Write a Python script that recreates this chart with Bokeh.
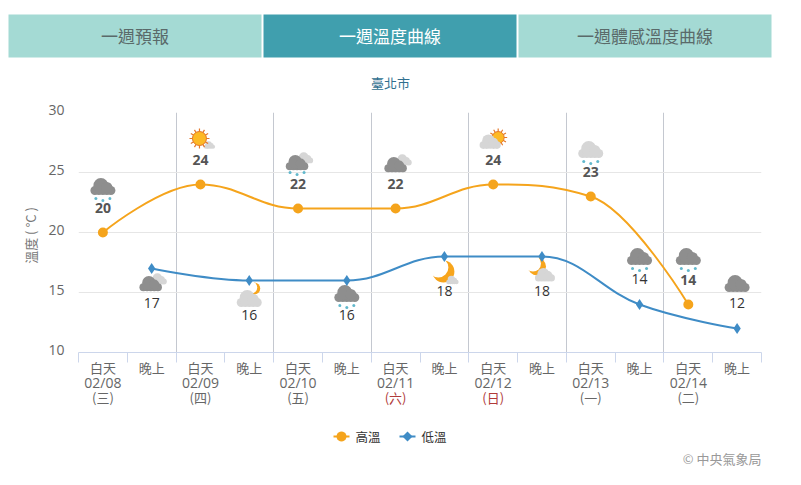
import math
from bokeh.plotting import figure
from bokeh.embed import file_html
from bokeh.resources import INLINE
from bokeh.core.properties import value
from bokeh.models import FixedTicker, Range1d

# ---------- data ----------
periods = ["白天", "晚上"] * 7
dates = ["02/08", "02/09", "02/10", "02/11", "02/12", "02/13", "02/14"]
weekdays = ["(三)", "(四)", "(五)", "(六)", "(日)", "(一)", "(二)"]
weekday_colors = ["#666666", "#666666", "#666666", "#b03a3a", "#b03a3a", "#666666", "#666666"]
high_slots = [0, 2, 4, 6, 8, 10, 12]
high_temps = [20, 24, 22, 22, 24, 23, 14]
low_slots = [1, 3, 5, 7, 9, 11, 13]
low_temps = [17, 16, 16, 18, 18, 14, 12]
low_label_above = [False, False, False, False, False, True, True]
high_icons = ["rain", "sun", "cloudsrain", "clouds", "suncloud", "lightrain", "rain"]
low_icons = ["clouds", "moonsliver", "rain", "moon", "moonbehind", "rain", "dark"]
tabs = ["一週預報", "一週溫度曲線", "一週體感溫度曲線"]
y_ticks = [10, 15, 20, 25, 30]
day_lines = [2, 4, 6, 8, 10, 12]
legend_names = ["高溫", "低溫"]

HIGH = "#f5a41c"
LOW = "#3f8cc6"
CJK = "Noto Sans CJK TC"
LATIN = "Open Sans"

# ---------- page geometry ----------
W, H = 790, 475
FL, FR, FT, FB = 78, 761, 112, 352      # frame edges in page pixels
PX_X = (FR - FL) / 14
PX_Y = (FB - FT) / 20


def X(px):
    return (px - FL) / PX_X


def Y(px):
    return 10 + (FB - px) / PX_Y


p = figure(
    width=W, height=H, output_backend="svg", toolbar_location=None,
    x_range=Range1d(0, 14), y_range=Range1d(10, 30),
    min_border_left=FL, min_border_right=W - FR,
    min_border_top=FT, min_border_bottom=H - FB,
    outline_line_color=None, background_fill_color="white",
)

# axes and grids
p.xaxis.ticker = FixedTicker(ticks=list(range(15)))
p.xaxis.major_label_text_color = None
p.xaxis.axis_line_color = "#ccd6eb"
p.xaxis.major_tick_line_color = "#ccd6eb"
p.xaxis.major_tick_out = 10
p.xaxis.major_tick_in = 0
p.xaxis.minor_tick_line_color = None
p.yaxis.ticker = FixedTicker(ticks=y_ticks)
p.yaxis.axis_line_color = None
p.yaxis.major_tick_line_color = None
p.yaxis.minor_tick_line_color = None
p.yaxis.major_label_text_color = None
p.ygrid.ticker = FixedTicker(ticks=y_ticks)
p.ygrid.grid_line_color = "#e6e6e6"
p.xgrid.ticker = FixedTicker(ticks=day_lines)
p.xgrid.grid_line_color = "#c4c8d0"


def txt(xs, ys, texts, color, size, font=CJK, align="center", style="normal", **kw):
    p.text(xs, ys, text=texts, text_color=color, text_font_size=f"{size}px",
           text_font=value(font), text_align=align, text_baseline="middle",
           text_font_style=style, level="overlay", **kw)


# y tick labels sit a little above their grid lines
txt([X(64)] * len(y_ticks), y_ticks, [str(t) for t in y_ticks], "#666666", 14, font=LATIN,
    align="right", y_offset=-2.5)

# tabs
tab_left = [8, 263, 518]
tab_right = [261, 516, 771]
tab_fill = ["#a4dad4", "#409fae", "#a4dad4"]
tab_text = ["#5a6a6a", "#ffffff", "#5a6a6a"]
for l, r, f, c, t in zip(tab_left, tab_right, tab_fill, tab_text, tabs):
    p.quad(left=[X(l)], right=[X(r)], top=[Y(14)], bottom=[Y(57)], fill_color=f,
           line_color=None, level="overlay")
    txt([X((l + r) / 2)], [Y(34.5)], [t], c, 17)

txt([X(390)], [Y(82)], ["臺北市"], "#2f6f8f", 13)
txt([X(30)], [Y(235)], ["溫度 ( °C )"], "#777777", 13, angle=1.5708)
txt([X(761)], [Y(458)], ["© 中央氣象局"], "#999999", 13, align="right")

# category labels
slot_centers = [i + 0.5 for i in range(14)]
txt(slot_centers, [Y(367)] * 14, periods, "#666666", 13)
txt(slot_centers[::2], [Y(382)] * 7, dates, "#666666", 14, font=LATIN)
for c, d, col in zip(slot_centers[::2], weekdays, weekday_colors):
    txt([c], [Y(397)], [d], col, 13)


# ---------- weather icons: pieces offset in pixels from an icon centre ----------
def dots(cx, cy, pieces, color, line=None):
    xs = [X(cx + a) for a, b, s in pieces]
    ys = [Y(cy + b) for a, b, s in pieces]
    sz = [s for a, b, s in pieces]
    p.scatter(xs, ys, size=sz, marker="circle", fill_color=color,
              line_color=line if line else color, line_width=1 if line else 0)


def cloud(cx, cy, color, k=1.0):
    base = [(-8, 3, 9), (-4, 3, 9), (0, 3, 9), (4, 3, 9), (8, 3, 9), (-2, -2, 15), (4, 0, 11)]
    dots(cx, cy, [(a * k, b * k, s * k) for a, b, s in base], color)


def rain(cx, cy):
    dots(cx, cy, [(-7, 11, 3), (0, 13, 3), (7, 11, 3)], "#62b8cc")


def sun(cx, cy, r):
    for a in [i * 0.5236 for i in range(12)]:
        p.ray([X(cx)], [Y(cy)], length=r + 3, length_units="screen", angle=a,
              line_color="#e4782a", line_width=1.2)
    dots(cx, cy, [(0, 0, 2 * r)], "#fdb925", line="#e4782a")


def moon(cx, cy, r, mx, my, mr):
    dots(cx, cy, [(0, 0, 2 * r)], "#f7a51c")
    dots(cx, cy, [(mx, my, 2 * mr)], "#ffffff")


DARK = "#8e8e8e"
LIGHT = "#d6d6d6"


def icon(kind, cx, cy):
    if kind == "rain":
        cloud(cx, cy, DARK)
        rain(cx, cy)
    elif kind == "dark":
        cloud(cx, cy, DARK)
    elif kind == "lightrain":
        cloud(cx, cy, LIGHT)
        rain(cx, cy)
    elif kind == "clouds":
        cloud(cx + 7, cy - 5, LIGHT, 0.65)
        cloud(cx - 1, cy, DARK, 0.9)
    elif kind == "cloudsrain":
        cloud(cx + 7, cy - 5, LIGHT, 0.65)
        cloud(cx - 1, cy, DARK, 0.9)
        rain(cx - 1, cy - 2)
    elif kind == "sun":
        cloud(cx + 9, cy + 6, LIGHT, 0.45)
        sun(cx - 1, cy - 1, 7)
    elif kind == "suncloud":
        sun(cx + 5, cy - 2, 6)
        cloud(cx - 3, cy + 3, LIGHT, 0.85)
    elif kind == "moon":
        moon(cx - 1, cy - 1, 11, -5, -4, 10)
        cloud(cx + 8, cy + 8, LIGHT, 0.5)
    elif kind == "moonbehind":
        moon(cx - 5, cy - 6, 9, -4, -3, 8)
        cloud(cx + 3, cy + 3, LIGHT, 0.8)
    elif kind == "moonsliver":
        moon(cx + 5, cy - 8, 6, -3, -1, 6)
        cloud(cx, cy + 3, LIGHT)


def px_x(v):
    return FL + v * PX_X


def px_y(v):
    return FB - (v - 10) * PX_Y


for s, v, k in zip(high_slots, high_temps, high_icons):
    lift = 46 if k == "lightrain" else 43 if k == "clouds" else 47 if v == 14 else 45
    icon(k, px_x(s + 0.5) + (1 if k == "clouds" else 0), px_y(v) - lift)
for s, v, k, above in zip(low_slots, low_temps, low_icons, low_label_above):
    if above:
        cy = px_y(v) - (44 if k == "dark" else 47)
    else:
        cy = px_y(v) + (14 if k == "rain" else 16)
    icon(k, px_x(s + 0.5), cy)


# ---------- spline through the points, same rule as the source chart's spline ----------
def controls(xs, ys, smooth=1.5):
    left, right = [None] * len(xs), [None] * len(xs)
    d = smooth + 1
    for i in range(1, len(xs) - 1):
        lx, ly = (smooth * xs[i] + xs[i - 1]) / d, (smooth * ys[i] + ys[i - 1]) / d
        rx, ry = (smooth * xs[i] + xs[i + 1]) / d, (smooth * ys[i] + ys[i + 1]) / d
        corr = (ry - ly) * (rx - xs[i]) / (rx - lx) + ys[i] - ry
        ly += corr
        ry += corr
        if ly > ys[i - 1] and ly > ys[i]:
            ly = max(ys[i - 1], ys[i])
            ry = 2 * ys[i] - ly
        elif ly < ys[i - 1] and ly < ys[i]:
            ly = min(ys[i - 1], ys[i])
            ry = 2 * ys[i] - ly
        if ry > ys[i + 1] and ry > ys[i]:
            ry = max(ys[i + 1], ys[i])
            ly = 2 * ys[i] - ry
        elif ry < ys[i + 1] and ry < ys[i]:
            ry = min(ys[i + 1], ys[i])
            ly = 2 * ys[i] - ry
        left[i], right[i] = (lx, ly), (rx, ry)
    return left, right


def series(slots, temps, color, marker, size):
    xs = [s + 0.5 for s in slots]
    left, right = controls(xs, temps)
    x0, y0, x1, y1, cx0, cy0, cx1, cy1 = [], [], [], [], [], [], [], []
    for i in range(len(xs) - 1):
        a = right[i] or (xs[i], temps[i])
        b = left[i + 1] or (xs[i + 1], temps[i + 1])
        x0.append(xs[i]); y0.append(temps[i]); x1.append(xs[i + 1]); y1.append(temps[i + 1])
        cx0.append(a[0]); cy0.append(a[1]); cx1.append(b[0]); cy1.append(b[1])
    p.bezier(x0, y0, x1, y1, cx0, cy0, cx1, cy1, line_color=color, line_width=2)
    p.scatter(xs, temps, marker=marker, size=size, fill_color=color, line_color=color, line_width=0)


series(high_slots, high_temps, HIGH, "circle", 10)
series(low_slots, low_temps, LOW, "diamond", 11)

# value labels
txt([s + 0.5 for s in high_slots], high_temps, [str(v) for v in high_temps], "#555555", 14,
    font=LATIN, style="bold", y_offset=-25)
for s, v, above in zip(low_slots, low_temps, low_label_above):
    txt([s + 0.5], [v], [str(v)], "#333333", 14, font=LATIN, y_offset=-26 if above else 34)

# legend (hand drawn: it lies outside the plot frame)
for name, col, sides, r, x0, tx in zip(legend_names, [HIGH, LOW], [20, 4], [5, 5], [333, 399], [355, 421]):
    p.line([X(x0), X(x0 + 16)], [Y(436), Y(436)], line_color=col, line_width=2, level="overlay")
    angles = [2 * math.pi * i / sides for i in range(sides)]
    p.patch([X(x0 + 8 + r * math.cos(a)) for a in angles], [Y(436 + r * math.sin(a)) for a in angles],
            fill_color=col, line_color=col, line_width=0, level="overlay")
    txt([X(tx)], [Y(436)], [name], "#333333", 12.5, align="left")

open("out.html", "w").write(file_html(p, INLINE))
